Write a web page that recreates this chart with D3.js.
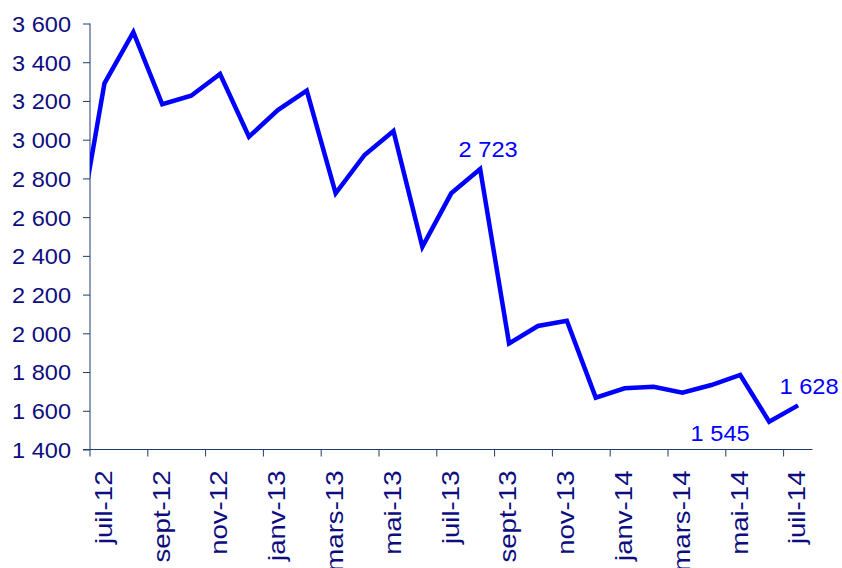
<!DOCTYPE html>
<html>
<head>
<meta charset="utf-8">
<script src="https://cdn.jsdelivr.net/npm/d3@7"></script>
<style>
  html, body { margin: 0; padding: 0; background: #ffffff; }
  svg { display: block; }
  text { font-family: "Liberation Sans", Arial, sans-serif; }
</style>
</head>
<body>
<svg id="chart" width="842" height="568"></svg>
<script>
// Monthly series (first entry precedes the visible window and is clipped at the axis)
const months = ["juin-12","juil-12","août-12","sept-12","oct-12","nov-12","déc-12",
  "janv-13","févr-13","mars-13","avr-13","mai-13","juin-13","juil-13","août-13",
  "sept-13","oct-13","nov-13","déc-13","janv-14","févr-14","mars-14","avr-14",
  "mai-14","juin-14","juil-14"];
const values = [2430, 3291, 3555, 3183, 3227, 3339, 3015,
  3153, 3253, 2723, 2921, 3045, 2447, 2723, 2849,
  1948, 2038, 2065, 1668, 1716, 1724, 1693, 1733,
  1785, 1544, 1628];
const tickLabels = ["juil-12","sept-12","nov-12","janv-13","mars-13","mai-13",
  "juil-13","sept-13","nov-13","janv-14","mars-14","mai-14","juil-14"];
const yTicks = [1400, 1600, 1800, 2000, 2200, 2400, 2600, 2800, 3000, 3200, 3400, 3600];
const annotMonths = ["août-13", "juin-14", "juil-14"];
const annotTexts = ["2 723", "1 545", "1 628"];

const svg = d3.select("#chart");
const L = 90, R = 812.5, T = 23.5, B = 449.5;

const firstVisible = 1;
const nVisible = months.length - firstVisible;
const x = d3.scaleLinear().domain([firstVisible, firstVisible + nVisible]).range([L, R]);
const xc = i => x(i + 0.5);
const y = d3.scaleLinear().domain([1400, 3600]).range([B, T]);

const fr = d3.formatLocale({decimal: ",", thousands: " ", grouping: [3], currency: ["", " €"]});
const fmt = fr.format(",d");

const axisColor = "#1f3d6b";
const labelColor = "#0d0d80";

// clip
svg.append("defs").append("clipPath").attr("id", "plot")
  .append("rect").attr("x", L).attr("y", 0).attr("width", R - L).attr("height", 568);

// Y axis
const yAxis = svg.append("g").attr("transform", `translate(${L},0)`)
  .call(d3.axisLeft(y).tickValues(yTicks).tickSize(7).tickFormat(fmt));
yAxis.select(".domain").attr("stroke", axisColor).attr("d", `M0,${T}V${B}`);
yAxis.selectAll(".tick line").attr("stroke", axisColor);
yAxis.selectAll(".tick text")
  .attr("x", null)
  .attr("transform", "translate(-19,0) scale(1.07,1)")
  .attr("dy", "0.36em")
  .attr("fill", labelColor)
  .attr("font-size", 22);

// X axis
const tickIdx = tickLabels.map(m => months.indexOf(m));
const xAxis = svg.append("g").attr("transform", `translate(0,${B})`);
xAxis.append("line").attr("x1", L - 7).attr("x2", R).attr("y1", 0).attr("y2", 0)
  .attr("stroke", axisColor);
xAxis.selectAll("line.tk").data(tickIdx).join("line").attr("class", "tk")
  .attr("x1", d => x(d)).attr("x2", d => x(d)).attr("y1", 0).attr("y2", 7)
  .attr("stroke", axisColor);
xAxis.selectAll("text").data(tickIdx).join("text")
  .attr("transform", d => `translate(${xc(d) - 1},21) rotate(-90) scale(1.2,1)`)
  .attr("text-anchor", "end")
  .attr("dy", "0.36em")
  .attr("fill", labelColor)
  .attr("font-size", 23)
  .text(d => months[d]);

// Line
const line = d3.line().x((d, i) => xc(i)).y(d => y(d));
svg.append("path").datum(values)
  .attr("clip-path", "url(#plot)")
  .attr("d", line)
  .attr("fill", "none")
  .attr("stroke", "#0000ff")
  .attr("stroke-width", 4.5)
  .attr("stroke-linejoin", "miter");

// Data labels
const offsets = [[8, -12], [-49, 19], [11, -11]];
svg.selectAll("text.ann").data(annotMonths).join("text").attr("class", "ann")
  .attr("transform", (m, k) => {
    const i = months.indexOf(m);
    return `translate(${xc(i) + offsets[k][0]},${y(values[i]) + offsets[k][1]}) scale(1.05,1)`;
  })
  .attr("text-anchor", "middle")
  .attr("fill", "#0000ff")
  .attr("font-size", 22.5)
  .text((m, k) => annotTexts[k]);
</script>
</body>
</html>
